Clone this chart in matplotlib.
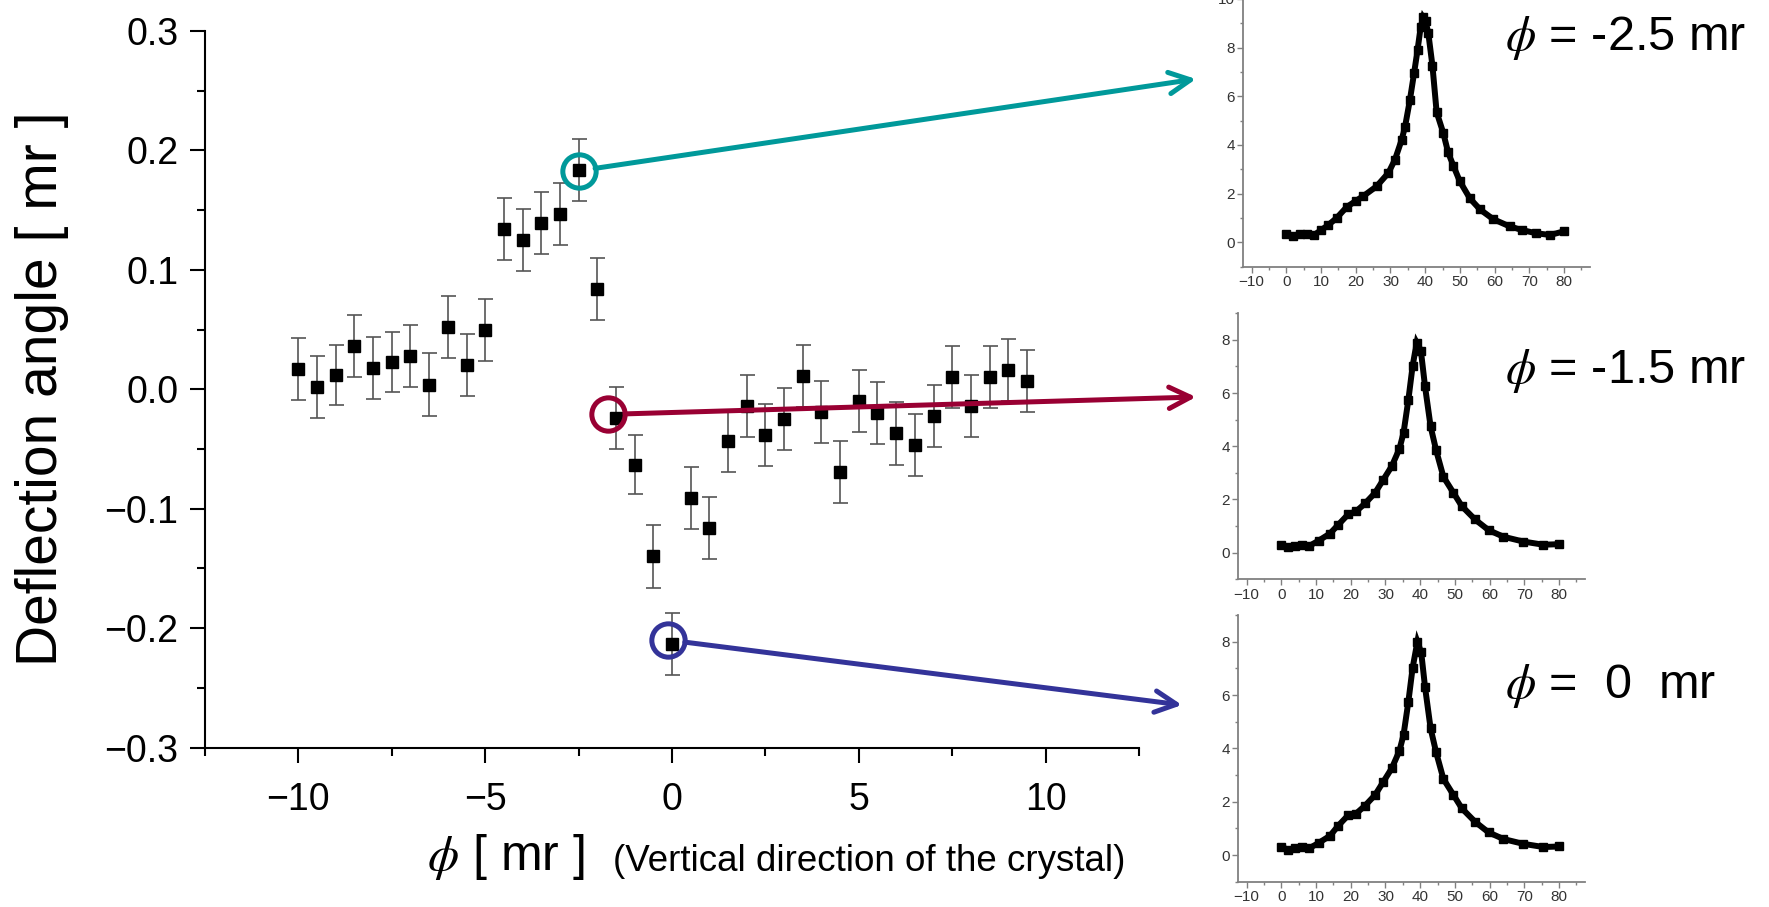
import numpy as np
import matplotlib
matplotlib.use("Agg")
import matplotlib.pyplot as plt
from matplotlib.ticker import MultipleLocator, FuncFormatter

plt.rcParams['font.family'] = ['Liberation Sans', 'DejaVu Sans']
plt.rcParams['mathtext.fontset'] = 'stix'

# ---------------------------------------------------------
# Main scan: deflection angle vs. vertical crystal angle phi
# ---------------------------------------------------------
phi_mr = [-10.0, -9.5, -9.0, -8.5, -8.0, -7.5, -7.0, -6.5, -6.0, -5.5,
          -5.0, -4.5, -4.0, -3.5, -3.0, -2.5, -2.0, -1.5, -1.0, -0.5,
          0.0, 0.5, 1.0, 1.5, 2.0, 2.5, 3.0, 3.5, 4.0, 4.5,
          5.0, 5.5, 6.0, 6.5, 7.0, 7.5, 8.0, 8.5, 9.0, 9.5]
deflection = [0.017, 0.002, 0.012, 0.036, 0.018, 0.023, 0.028, 0.004, 0.052, 0.020,
              0.050, 0.134, 0.125, 0.139, 0.147, 0.184, 0.084, -0.024, -0.063, -0.140,
              -0.213, -0.091, -0.116, -0.043, -0.014, -0.038, -0.025, 0.011, -0.019, -0.069,
              -0.010, -0.020, -0.037, -0.047, -0.022, 0.010, -0.014, 0.010, 0.016, 0.007]
deflection_err = [0.026, 0.026, 0.025, 0.026, 0.026, 0.025, 0.026, 0.026, 0.026, 0.026,
                  0.026, 0.026, 0.026, 0.026, 0.026, 0.026, 0.026, 0.026, 0.025, 0.026,
                  0.026, 0.026, 0.026, 0.026, 0.026, 0.026, 0.026, 0.026, 0.026, 0.026,
                  0.026, 0.026, 0.026, 0.026, 0.026, 0.026, 0.026, 0.026, 0.026, 0.026]

# highlighted points (circle centres) and their labels
highlight_phi = [-2.5, -1.7, -0.1]
highlight_defl = [0.183, -0.021, -0.210]
highlight_colors = ['#00999a', '#990033', '#333399']
highlight_labels = [r'$\phi$ = -2.5 mr', r'$\phi$ = -1.5 mr', r'$\phi$ =  0  mr']

# ---------------------------------------------------------
# Inset profiles (one per highlighted phi)
# ---------------------------------------------------------
prof1_x = [0, 2, 4, 6, 8, 10, 12, 14.5, 17.4, 20, 22.2, 26, 29.4, 31.3, 33.2, 34.2,
           35.6, 36.8, 37.8, 38.7, 39.4, 40.1, 40.9, 42.1, 43.3, 45.2, 46.6, 48.1,
           50, 52.9, 55.8, 59.6, 64.4, 68, 72, 76, 80]
prof1_y = [0.35, 0.25, 0.32, 0.35, 0.3, 0.5, 0.7, 1.0, 1.45, 1.7, 1.9, 2.3, 2.85, 3.4,
           4.2, 4.75, 5.85, 6.95, 7.9, 8.85, 9.25, 9.1, 8.6, 7.25, 5.35, 4.5, 3.7, 3.15,
           2.5, 1.8, 1.35, 0.95, 0.65, 0.5, 0.37, 0.3, 0.45]

prof2_x = [0, 2, 4, 6, 8, 10.7, 14, 16.4, 19.3, 21.5, 24.1, 27, 29.4, 31.8, 34, 35.2,
           36.6, 37.8, 39, 40.2, 41.4, 43, 44.6, 46.7, 49.6, 52, 55.8, 59.7, 64,
           69.7, 75.5, 80]
prof2_y = [0.3, 0.22, 0.25, 0.3, 0.25, 0.45, 0.72, 1.05, 1.45, 1.55, 1.85, 2.25, 2.75,
           3.25, 3.9, 4.5, 5.75, 7.0, 7.9, 7.6, 6.25, 4.75, 3.85, 2.85, 2.25, 1.75,
           1.25, 0.85, 0.6, 0.42, 0.3, 0.32]

prof3_x = [0, 2, 4, 6, 8, 10.7, 14, 16.4, 19.3, 21.5, 24.1, 27, 29.4, 31.8, 34, 35.2,
           36.6, 37.8, 39.2, 40.3, 41.4, 43, 44.6, 46.7, 49.6, 52, 55.8, 59.7, 64,
           69.7, 75.5, 80]
prof3_y = [0.3, 0.2, 0.25, 0.3, 0.25, 0.45, 0.72, 1.1, 1.5, 1.55, 1.85, 2.25, 2.75,
           3.25, 3.9, 4.5, 5.75, 7.0, 8.0, 7.6, 6.3, 4.75, 3.85, 2.85, 2.25, 1.75,
           1.25, 0.85, 0.6, 0.42, 0.3, 0.32]

profiles = [(prof1_x, prof1_y), (prof2_x, prof2_y), (prof3_x, prof3_y)]

# ---------------------------------------------------------
fig = plt.figure(figsize=(17.69, 9.07), dpi=100)
W, H = 1769.0, 907.0

ax = fig.add_axes([205 / W, 1 - 747.5 / H, 934 / W, 716.4 / H])
ax.errorbar(phi_mr, deflection, yerr=deflection_err, fmt='none', ecolor='#555555',
            elinewidth=1.2, capsize=5.4, capthick=1.2, zorder=2)
ax.plot(phi_mr, deflection, 's', color='black', ms=8.8, zorder=3)

ax.set_xlim(-12.5, 12.5)
ax.set_ylim(-0.3, 0.3)
ax.xaxis.set_major_locator(MultipleLocator(5))
ax.xaxis.set_minor_locator(MultipleLocator(2.5))
ax.yaxis.set_major_locator(MultipleLocator(0.1))
ax.yaxis.set_minor_locator(MultipleLocator(0.05))
ax.xaxis.set_major_formatter(FuncFormatter(lambda v, p: f'{v:.0f}'.replace('-', '\u2212')))
ax.yaxis.set_major_formatter(FuncFormatter(
    lambda v, p: ('%.1f' % (0.0 if abs(v) < 1e-9 else v)).replace('-', '\u2212')))
for s in ['top', 'right']:
    ax.spines[s].set_visible(False)
for s in ['left', 'bottom']:
    ax.spines[s].set_linewidth(1.5)
ax.tick_params(which='major', direction='out', length=11, width=1.5, labelsize=27, pad=8)
ax.tick_params(which='minor', direction='out', length=6, width=1.5)
ax.tick_params(axis='x', which='major', pad=14)

# axis titles
fig.text(42 / W, 1 - 389 / H, 'Deflection angle [ mr ]', rotation=90,
         ha='center', va='center', fontsize=41)
fig.text(427 / W, 1 - 870 / H, r'$\phi$' + ' [ mr ]', ha='left', va='baseline', fontsize=36)
fig.text(613 / W, 1 - 871 / H, '(Vertical direction of the crystal)', ha='left',
         va='baseline', fontsize=26.5)

# ---------------------------------------------------------
# insets
# ---------------------------------------------------------
inset_boxes = [
    [1243 / W, 1 - 266.6 / H, 347 / W, 272.5 / H],
    [1238 / W, 1 - 579.3 / H, 347 / W, 266 / H],
    [1238 / W, 1 - 881.7 / H, 347 / W, 266.7 / H],
]
inset_ylims = [(-1, 10.2), (-1, 9), (-1, 9)]
arrow_tips = [(1196, 79), (1196, 397), (1182, 705)]
label_pos = [(1505, 50), (1505, 383), (1505, 698)]

for i in range(3):
    iax = fig.add_axes(inset_boxes[i])
    px, py = profiles[i]
    iax.plot(px, py, '-', color='black', lw=4.3, zorder=3, solid_joinstyle='miter')
    iax.plot(px, py, 's', color='black', ms=5.5, zorder=3)
    iax.set_xlim(-12.5, 87.5)
    iax.set_ylim(*inset_ylims[i])
    iax.xaxis.set_major_locator(MultipleLocator(10))
    iax.xaxis.set_minor_locator(MultipleLocator(5))
    iax.yaxis.set_major_locator(MultipleLocator(2))
    iax.yaxis.set_minor_locator(MultipleLocator(1))
    iax.xaxis.set_major_formatter(FuncFormatter(lambda v, p: f'{v:.0f}'.replace('-', '\u2212')))
    iax.yaxis.set_major_formatter(FuncFormatter(lambda v, p: f'{v:.0f}'))
    for s in ['top', 'right']:
        iax.spines[s].set_visible(False)
    for s in ['left', 'bottom']:
        iax.spines[s].set_color('#808080')
        iax.spines[s].set_linewidth(1.3)
    iax.tick_params(which='major', direction='out', length=4, width=1, color='#808080',
                    labelsize=11, labelcolor='#333333', pad=2)
    iax.tick_params(which='minor', direction='out', length=2.5, width=1, color='#808080')
    iax.patch.set_alpha(0)

    # circle on the main plot and arrow to the inset
    col = highlight_colors[i]
    ax.plot(highlight_phi[i], highlight_defl[i], 'o', mfc='none', mec=col, ms=24,
            mew=3.6, zorder=5, clip_on=False)
    tx, ty = arrow_tips[i]
    ax.annotate('', xy=(tx / W, 1 - ty / H), xycoords='figure fraction',
                xytext=(highlight_phi[i], highlight_defl[i]), textcoords='data',
                arrowprops=dict(arrowstyle='->,head_length=0.7,head_width=0.35',
                                color=col, lw=3.6, shrinkA=12, shrinkB=0,
                                mutation_scale=22),
                annotation_clip=False, zorder=4)

    lx, ly = label_pos[i]
    fig.text(lx / W, 1 - ly / H, highlight_labels[i], ha='left', va='baseline',
             fontsize=35)

fig.savefig('out.png', dpi=100)
